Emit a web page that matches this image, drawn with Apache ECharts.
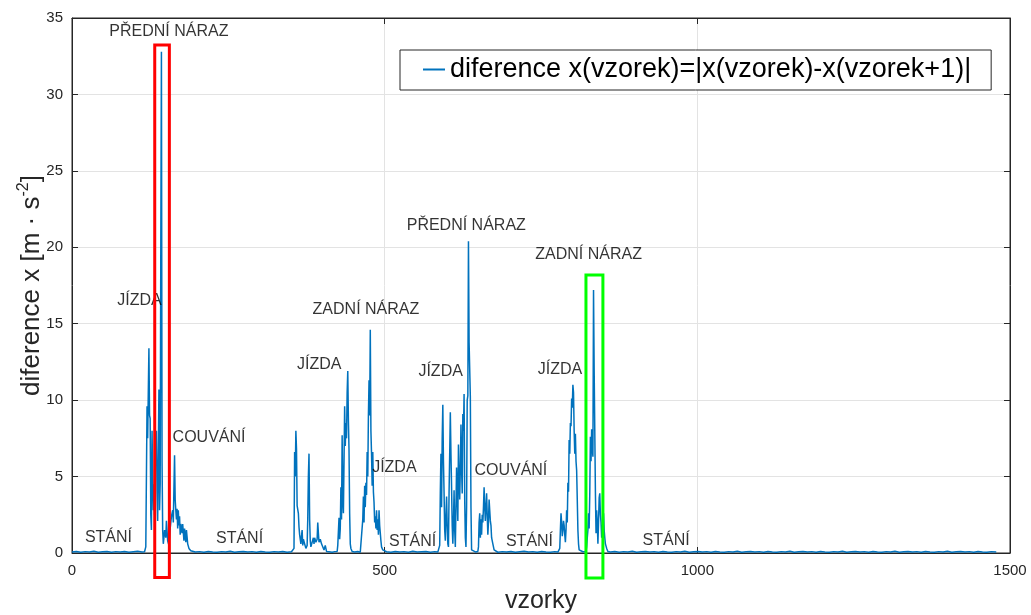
<!DOCTYPE html>
<html>
<head>
<meta charset="utf-8">
<script src="https://cdn.jsdelivr.net/npm/echarts@6/dist/echarts.min.js"></script>
<style>
html,body{margin:0;padding:0;background:#fff;}
#chart{width:1031px;height:615px;}
</style>
</head>
<body>
<div id="chart"></div>
<script>
// ---- data: [sample index, |x(n)-x(n+1)|] ----
const staniA = [[0,0.07],[7,0.1],[14,0.05],[21,0.09],[28,0.06],[35,0.11],[42,0.05],[49,0.08],[56,0.1],[63,0.05],[70,0.09],[77,0.06],[84,0.1],[91,0.05],[98,0.08],[105,0.11],[112,0.06],[116,0.08]];
const jizda1 = [[117,0.1],[118,0.4],[120,9.6],[121,7.5],[122,10.5],[123,13.4],[124,9.0],[125,8.8],[126,2.5],[127,1.5],[128,8.0],[129,5.0],[130,2.8],[131,4.5],[132,2.5],[133,6.0],[135,8.0],[136,4.0],[137,2.1],[138,6.5],[139,10.7],[140,2.8],[141,4.5],[142,20.0],[143,32.8],[144,6.0],[145,1.5],[146,0.6],[147,1.0],[148,1.5],[150,1.0],[151,2.1],[153,0.8],[155,0.5],[157,1.6],[159,2.4],[161,2.8],[162,2.0],[164,6.4],[165,3.5],[166,2.8],[167,2.2],[168,2.9],[169,1.6],[170,2.8],[171,1.8],[172,2.4],[173,1.2],[174,1.9],[176,1.3],[177,1.9],[179,0.8],[180,1.6],[182,0.7],[183,1.5],[185,0.6],[187,0.3],[190,0.15],[193,0.1]];
const staniB = [[197,0.06],[204,0.09],[211,0.05],[218,0.1],[225,0.07],[232,0.05],[239,0.09],[246,0.06],[253,0.11],[260,0.05],[267,0.08],[274,0.1],[281,0.06],[288,0.09],[295,0.05],[302,0.1],[309,0.07],[316,0.05],[323,0.09],[330,0.06],[337,0.1],[344,0.05],[351,0.08]];
const jizda2 = [[354,0.1],[355,0.3],[356,6.6],[357,5.0],[358,8.0],[359,6.8],[360,3.1],[361,3.0],[362,2.6],[363,1.7],[364,1.2],[365,1.3],[366,0.6],[367,1.1],[368,1.5],[369,0.5],[370,0.9],[372,0.8],[374,0.3],[376,0.5],[377,2.2],[378,5.0],[379,6.5],[380,2.2],[381,0.8],[382,0.4],[384,0.5],[386,1.0],[387,0.6],[388,1.0],[390,0.7],[392,0.9],[393,2.0],[394,1.3],[395,0.7],[397,0.9],[399,0.6],[401,0.7],[403,0.2],[405,0.5],[407,0.1],[411,0.08],[416,0.05],[420,0.09]];
const jizda3 = [[424,0.1],[425,0.5],[426,1.4],[427,2.3],[428,0.9],[429,1.6],[430,4.3],[431,2.2],[432,7.7],[433,3.5],[434,2.6],[435,6.0],[436,9.6],[437,7.0],[438,8.5],[439,7.5],[440,10.5],[441,11.9],[442,8.7],[443,6.7],[444,2.6],[445,0.6],[446,0.3],[448,0.1],[452,0.06],[457,0.1],[461,0.05]];
const zadni1 = [[464,0.1],[465,2.2],[466,3.7],[467,2.0],[468,4.4],[469,3.0],[470,4.6],[471,3.8],[472,6.6],[473,5.0],[474,9.0],[475,11.3],[476,9.0],[477,14.6],[478,8.0],[479,6.5],[480,4.4],[481,6.6],[482,4.0],[483,3.3],[484,2.0],[485,2.4],[486,1.6],[487,2.8],[488,1.5],[489,2.2],[490,1.2],[491,2.8],[492,1.8],[493,1.3],[494,0.8],[495,0.4],[497,0.2],[499,0.1]];
const staniC = [[503,0.08],[510,0.05],[517,0.1],[524,0.06],[531,0.09],[538,0.05],[545,0.11],[552,0.06],[559,0.08],[566,0.1],[573,0.05],[580,0.09],[585,0.06]];
const jizda4 = [[587,0.1],[588,0.5],[589,4.0],[590,6.5],[591,3.0],[592,7.5],[593,9.7],[594,6.0],[595,3.9],[596,1.5],[597,0.8],[598,2.5],[599,3.7],[600,1.8],[601,0.6],[602,0.4],[603,4.0],[604,6.5],[605,9.2],[606,6.5],[607,4.3],[608,1.8],[609,0.6],[610,2.0],[611,4.1],[612,1.5],[613,0.4],[614,3.0],[615,5.6],[616,3.8],[617,2.1],[618,7.1],[619,5.0],[620,3.5],[621,5.5],[622,8.4],[623,5.5],[624,3.9],[625,9.1],[626,8.0],[627,10.4],[628,3.5],[629,1.0],[630,0.4],[631,3.0],[632,10.0],[633,10.3],[634,20.4],[635,13.8],[636,12.0],[637,10.2],[638,3.0],[639,0.2],[641,0.1],[645,0.07]];
const couvani2 = [[649,0.1],[650,0.4],[651,2.0],[652,2.6],[653,1.0],[654,2.2],[655,1.2],[656,2.5],[657,2.0],[658,3.0],[659,4.3],[660,3.0],[661,2.1],[662,3.0],[663,3.9],[664,2.5],[665,1.2],[666,2.0],[667,3.5],[668,2.8],[669,2.1],[670,1.8],[671,1.0],[672,1.0],[673,0.6],[675,0.2],[677,0.1]];
const staniD = [[681,0.05],[688,0.09],[695,0.06],[702,0.1],[709,0.05],[716,0.08],[723,0.11],[730,0.06],[737,0.09],[744,0.05],[751,0.1],[758,0.07],[765,0.05],[772,0.09],[777,0.06]];
const jizda5 = [[779,0.1],[780,0.3],[781,1.5],[782,2.6],[783,2.0],[784,1.1],[785,1.5],[786,2.1],[787,1.8],[788,1.2],[789,0.7],[790,1.5],[791,2.8],[792,2.0],[793,4.6],[794,4.0],[795,7.4],[796,6.5],[797,8.5],[798,8.3],[799,10.1],[800,9.5],[801,11.0],[802,10.5],[803,8.0],[804,6.5],[805,7.8],[806,6.0],[807,5.4],[808,3.5],[809,1.5],[810,0.6],[811,0.2],[813,0.1],[817,0.08]];
const zadni2 = [[822,0.1],[823,0.4],[824,1.0],[825,1.5],[826,2.6],[827,1.6],[828,3.9],[829,7.6],[830,6.0],[831,8.1],[832,7.0],[833,6.3],[834,17.2],[835,12.0],[836,8.0],[837,4.0],[838,1.3],[839,2.8],[840,2.0],[841,0.6],[842,2.0],[843,3.6],[844,3.9],[845,2.5],[846,2.0],[847,1.0],[848,0.9],[849,2.0],[850,2.6],[851,1.5],[852,1.0],[853,0.6],[855,0.3],[857,0.1]];
const staniE = [[861,0.06],[868,0.1],[875,0.05],[882,0.09],[889,0.07],[896,0.11],[903,0.05],[910,0.08],[917,0.1],[924,0.06],[931,0.09],[938,0.05],[945,0.1],[952,0.07],[959,0.05],[966,0.09],[973,0.06],[980,0.11],[987,0.05],[994,0.08],[1001,0.1],[1008,0.06],[1015,0.09],[1022,0.05],[1029,0.1],[1036,0.07],[1043,0.05],[1050,0.09],[1057,0.06],[1064,0.11],[1071,0.05],[1078,0.08],[1085,0.1],[1092,0.06],[1099,0.09],[1106,0.05],[1113,0.1],[1120,0.07],[1127,0.05],[1134,0.09],[1141,0.06],[1148,0.11],[1155,0.05],[1162,0.08],[1169,0.1],[1176,0.06],[1183,0.09],[1190,0.05],[1197,0.1],[1204,0.07],[1211,0.05],[1218,0.09],[1225,0.06],[1232,0.11],[1239,0.05],[1246,0.08],[1253,0.1],[1260,0.06],[1267,0.09],[1274,0.05],[1281,0.1],[1288,0.07],[1295,0.05],[1302,0.09],[1309,0.06],[1316,0.11],[1323,0.05],[1330,0.08],[1337,0.1],[1344,0.06],[1351,0.09],[1358,0.05],[1365,0.1],[1372,0.07],[1379,0.05],[1386,0.09],[1393,0.06],[1400,0.11],[1407,0.05],[1414,0.08],[1421,0.1],[1428,0.06],[1435,0.09],[1442,0.05],[1449,0.1],[1456,0.07],[1463,0.05],[1470,0.09],[1478,0.06]];

const seriesName = 'diference x(vzorek)=|x(vzorek)-x(vzorek+1)|';
const xTicks = {min: 0, max: 1500, interval: 500};
const yTicks = {min: 0, max: 35, interval: 5};

// annotation texts: [text, sample, value]
const annotations = [
  ['PŘEDNÍ NÁRAZ', 155, 34.14],
  ['JÍZDA', 107.8, 16.48],
  ['COUVÁNÍ', 219.2, 7.52],
  ['STÁNÍ', 58.3, 0.98],
  ['STÁNÍ', 267.9, 0.95],
  ['JÍZDA', 395.4, 12.3],
  ['ZADNÍ NÁRAZ', 470, 15.9],
  ['JÍZDA', 515.5, 5.62],
  ['STÁNÍ', 544.7, 0.72],
  ['PŘEDNÍ NÁRAZ', 630.5, 21.42],
  ['JÍZDA', 589.5, 11.84],
  ['COUVÁNÍ', 701.8, 5.36],
  ['STÁNÍ', 731.6, 0.72],
  ['ZADNÍ NÁRAZ', 826.2, 19.52],
  ['JÍZDA', 780.3, 12.0],
  ['STÁNÍ', 950, 0.78]
];
// highlight boxes: [x1, yTop, x2, yBottom]
const boxes = [[132.3, 33.24, 155.7, -1.6], [821.9, 18.19, 849.0, -1.64]];
const boxColors = ['#ff0000', '#00ff00'];

const diffData = [].concat(staniA, jizda1, staniB, jizda2, jizda3, zadni1, staniC, jizda4, couvani2, staniD, jizda5, zadni2, staniE);

const FONT = '"Liberation Sans", Arial, Helvetica, sans-serif';
const AX = '#262626';

const chart = echarts.init(document.getElementById('chart'), null, {renderer: 'canvas'});
const baseX = {
  type: 'value', min: xTicks.min, max: xTicks.max, interval: xTicks.interval
};
const baseY = {
  type: 'value', min: yTicks.min, max: yTicks.max, interval: yTicks.interval
};
chart.setOption({
  animation: false,
  backgroundColor: '#ffffff',
  textStyle: {fontFamily: FONT},
  grid: {left: 72, right: 21, top: 18, bottom: 62, containLabel: false, outerBoundsMode: 'none',
         show: true, borderColor: AX, borderWidth: 1, backgroundColor: '#fff'},
  legend: {
    data: [{name: seriesName, icon: 'rect'}],
    left: 400, top: 50,
    itemWidth: 22, itemHeight: 2, itemGap: 0,
    padding: [6, 20, 7, 23],
    borderColor: AX, borderWidth: 1, backgroundColor: '#fff',
    textStyle: {fontSize: 27, color: '#000', fontFamily: FONT}
  },
  xAxis: [
    Object.assign({}, baseX, {
      position: 'bottom',
      axisLine: {show: true, onZero: false, lineStyle: {color: AX, width: 1}},
      axisTick: {show: true, inside: true, length: 6, lineStyle: {color: AX}},
      axisLabel: {fontSize: 15, color: AX, margin: 10, fontFamily: FONT, formatter: v => String(v)},
      splitLine: {show: true, lineStyle: {color: '#e3e3e3', width: 1}},
      name: 'vzorky', nameLocation: 'middle', nameGap: 36, nameMoveOverlap: false,
      nameTextStyle: {fontSize: 25, color: AX, fontFamily: FONT}
    }),
    Object.assign({}, baseX, {
      position: 'top',
      axisLine: {show: true, onZero: false, lineStyle: {color: AX, width: 1}},
      axisTick: {show: true, inside: true, length: 6, lineStyle: {color: AX}},
      axisLabel: {show: false},
      splitLine: {show: false}
    })
  ],
  yAxis: [
    Object.assign({}, baseY, {
      position: 'left',
      axisLine: {show: true, onZero: false, lineStyle: {color: AX, width: 1}},
      axisTick: {show: true, inside: true, length: 6, lineStyle: {color: AX}},
      axisLabel: {fontSize: 15, color: AX, margin: 9, fontFamily: FONT, formatter: v => String(v)},
      splitLine: {show: true, lineStyle: {color: '#e3e3e3', width: 1}},
      name: '{n|diference x [m · s}{s|-2}{n|]}',
      nameLocation: 'middle', nameGap: 24, nameRotate: 90, nameMoveOverlap: false,
      nameTextStyle: {
        color: AX, fontFamily: FONT,
        rich: {
          n: {fontSize: 26, lineHeight: 32, color: AX, fontFamily: FONT},
          s: {fontSize: 16, lineHeight: 16, verticalAlign: 'top', color: AX, fontFamily: FONT}
        }
      }
    }),
    Object.assign({}, baseY, {
      position: 'right',
      axisLine: {show: true, onZero: false, lineStyle: {color: AX, width: 1}},
      axisTick: {show: true, inside: true, length: 6, lineStyle: {color: AX}},
      axisLabel: {show: false},
      splitLine: {show: false}
    })
  ],
  series: [
    {
      name: seriesName, type: 'line', xAxisIndex: 0, yAxisIndex: 0,
      data: diffData, showSymbol: false, symbol: 'none',
      lineStyle: {width: 1.5, color: '#0072BD'}, itemStyle: {color: '#0072BD'},
      z: 3
    },
    {
      name: 'anno', type: 'scatter', xAxisIndex: 0, yAxisIndex: 0,
      data: annotations.map(a => [a[1], a[2], a[0]]),
      symbolSize: 0, itemStyle: {color: 'rgba(0,0,0,0)'}, silent: true,
      label: {show: true, position: 'inside', formatter: p => p.value[2], fontSize: 16,
              color: '#000', textBorderWidth: 0, fontFamily: FONT},
      z: 4
    },
    {
      name: 'boxes', type: 'custom', xAxisIndex: 0, yAxisIndex: 0, clip: false, silent: true,
      data: boxes.map((b, i) => [b[0], b[1], b[2], b[3], i]),
      encode: {x: [0, 2], y: [1, 3]},
      renderItem: function (params, api) {
        const p1 = api.coord([api.value(0), api.value(1)]);
        const p2 = api.coord([api.value(2), api.value(3)]);
        return {
          type: 'rect',
          shape: {x: p1[0], y: p1[1], width: p2[0] - p1[0], height: p2[1] - p1[1]},
          style: {fill: null, stroke: boxColors[api.value(4)], lineWidth: 3}
        };
      },
      z: 5
    }
  ]
});
</script>
</body>
</html>
